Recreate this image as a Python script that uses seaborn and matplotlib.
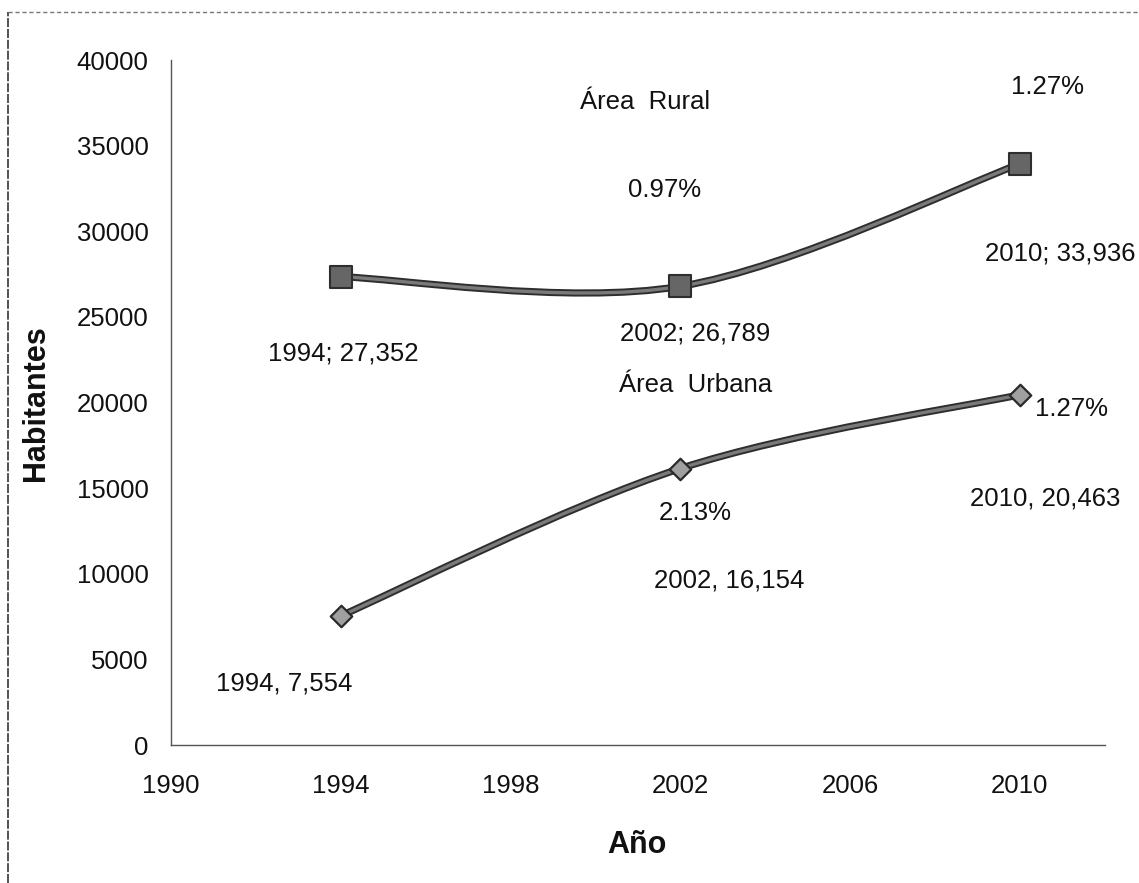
import matplotlib
matplotlib.use("Agg")
import matplotlib.pyplot as plt
import seaborn as sns
import pandas as pd
from matplotlib.path import Path
from matplotlib.patches import PathPatch
from matplotlib.lines import Line2D

# Datos
anios = [1994, 2002, 2010]
rural = [27352, 26789, 33936]
urbana = [7554, 16154, 20463]

etiquetas_rural = ["1994; 27,352", "2002; 26,789", "2010; 33,936"]
etiquetas_urbana = ["1994, 7,554", "2002, 16,154", "2010, 20,463"]
tasas_rural = ["0.97%", "1.27%"]
tasas_urbana = ["2.13%", "1.27%"]

x_ticks = [1990, 1994, 1998, 2002, 2006, 2010]
y_ticks = [0, 5000, 10000, 15000, 20000, 25000, 30000, 35000, 40000]

df = pd.DataFrame({
    "anio": anios * 2,
    "habitantes": rural + urbana,
    "area": ["Rural"] * 3 + ["Urbana"] * 3,
})

sns.set_theme(style="white")
plt.rcParams['font.family'] = ['Liberation Sans', 'DejaVu Sans']

fig = plt.figure(figsize=(11.39, 8.83), dpi=100)
ax = fig.add_axes([0.150, 0.156, 0.820, 0.776])


def curva_suave(xs, ys):
    # suavizado tipo Excel (Bezier con tangentes Catmull-Rom)
    pts = list(zip(xs, ys))
    verts = [pts[0]]
    codes = [Path.MOVETO]
    n = len(pts)
    for i in range(n - 1):
        p0 = pts[max(i - 1, 0)]
        p1 = pts[i]
        p2 = pts[i + 1]
        p3 = pts[min(i + 2, n - 1)]
        c1 = (p1[0] + (p2[0] - p0[0]) / 6, p1[1] + (p2[1] - p0[1]) / 6)
        c2 = (p2[0] - (p3[0] - p1[0]) / 6, p2[1] - (p3[1] - p1[1]) / 6)
        verts += [c1, c2, p2]
        codes += [Path.CURVE4] * 3
    return Path(verts, codes)


for serie in (rural, urbana):
    ax.add_patch(PathPatch(curva_suave(anios, serie), fill=False,
                           edgecolor="#2e2e2e", lw=5.2, capstyle="round", zorder=2))
    ax.add_patch(PathPatch(curva_suave(anios, serie), fill=False,
                           edgecolor="#7a7a7a", lw=2.4, capstyle="round", zorder=3))

sns.scatterplot(data=df[df["area"] == "Rural"], x="anio", y="habitantes",
                marker="s", s=260, color="#666666", edgecolor="#2e2e2e",
                linewidth=1.5, zorder=4, ax=ax, legend=False)
sns.scatterplot(data=df[df["area"] == "Urbana"], x="anio", y="habitantes",
                marker="D", s=120, color="#a0a0a0", edgecolor="#2a2a2a",
                linewidth=1.6, zorder=4, ax=ax, legend=False)

fs = 18.5
# etiquetas de datos
pos_rural = [(1994.05, 22891), (2002.35, 24058), (2010.94, 28730)]
pos_urbana = [(1992.66, 3620), (2003.15, 9635), (2010.59, 14423)]
for (x, y), t in zip(pos_rural, etiquetas_rural):
    ax.text(x, y, t, fontsize=fs, ha="center", va="center", color="#111111")
for (x, y), t in zip(pos_urbana, etiquetas_urbana):
    ax.text(x, y, t, fontsize=fs, ha="center", va="center", color="#111111")

ax.text(2001.62, 32409, tasas_rural[0], fontsize=fs, ha="center", va="center", color="#111111")
ax.text(2010.66, 38423, tasas_rural[1], fontsize=fs, ha="center", va="center", color="#111111")
ax.text(2002.35, 13547, tasas_urbana[0], fontsize=fs, ha="center", va="center", color="#111111")
ax.text(2011.22, 19620, tasas_urbana[1], fontsize=fs, ha="center", va="center", color="#111111")

ax.text(2001.18, 37547, "Área  Rural", fontsize=fs, ha="center", va="center", color="#111111")
ax.text(2002.35, 21022, "Área  Urbana", fontsize=fs, ha="center", va="center", color="#111111")

ax.set_xlim(1990, 2012)
ax.set_ylim(0, 40000)
ax.set_xticks(x_ticks)
ax.set_yticks(y_ticks)
ax.set_xticklabels([str(v) for v in x_ticks], fontsize=fs)
ax.set_yticklabels([str(v) for v in y_ticks], fontsize=fs)
ax.tick_params(axis="x", length=0, pad=21, colors="#111111")
ax.tick_params(axis="y", length=0, pad=16, colors="#111111")

ax.set_xlabel("Año", fontsize=22, fontweight="bold", color="#111111")
ax.set_ylabel("Habitantes", fontsize=22, fontweight="bold", color="#111111")
ax.xaxis.set_label_coords(0.499, -0.123)
ax.yaxis.set_label_coords(-0.128, 0.50)

for lado in ["top", "right"]:
    ax.spines[lado].set_visible(False)
for lado in ["left", "bottom"]:
    ax.spines[lado].set_color("#555555")
    ax.spines[lado].set_linewidth(1.0)
    ax.spines[lado].set_linestyle((0, (6, 1)))

# marco exterior
fig.add_artist(Line2D([8 / 1139, 8 / 1139], [0, 1 - 12 / 883], color="#444444",
                      lw=1.3, linestyle=(0, (5, 1))))
fig.add_artist(Line2D([8 / 1139, 1], [1 - 12 / 883, 1 - 12 / 883], color="#777777",
                      lw=1.0, linestyle=(0, (3, 2))))

fig.savefig("out.png", dpi=100, facecolor="white")
